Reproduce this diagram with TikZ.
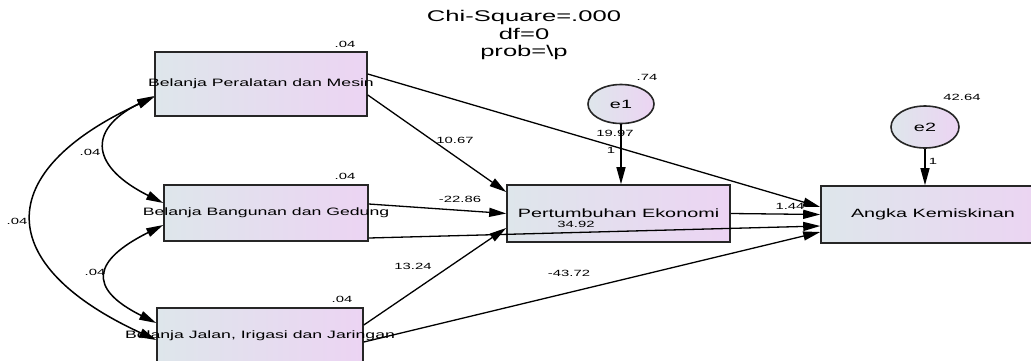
\documentclass[tikz,border=0pt]{standalone}
\usepackage{fontspec}
\setmainfont{Liberation Sans}[FakeStretch=1.65]
\usetikzlibrary{arrows.meta, shapes.geometric, positioning}
\usepackage{xcolor}
\definecolor{boxleft}{RGB}{222,230,235}
\definecolor{boxright}{RGB}{236,212,243}

\tikzset{
  obs/.style={draw=black!85, line width=1.6pt, left color=boxleft, right color=boxright, minimum height=57pt, inner sep=0pt},
  err/.style={draw=black!85, ellipse, line width=1.6pt, left color=boxleft, right color=boxright, minimum width=66pt, minimum height=39pt, inner sep=0pt, font=\fontsize{12}{14}\selectfont},
  reg/.style={-{Triangle[length=17pt,width=9pt]}, line width=1.3pt},
  cov/.style={{Triangle[length=17pt,width=9pt]}-{Triangle[length=17pt,width=9pt]}, line width=1.5pt},
  est/.style={font=\fontsize{9}{10}\selectfont, inner sep=0pt},
  small/.style={font=\fontsize{10.7}{12}\selectfont},
  big/.style={font=\fontsize{12}{14}\selectfont}
}

\begin{document}
\begin{tikzpicture}[x=1pt, y=-1pt]
\useasboundingbox (0,0) rectangle (1031,360);

% Fit statistics
\node[align=center, font=\fontsize{15.5}{17.5}\selectfont] (fit) at (524, 35) {Chi-Square=.000\\df=0\\prob=\textbackslash p};

% Exogenous variables
\node[obs, minimum width=212pt, minimum height=64pt, label={[small]center:Belanja Peralatan dan Mesin}] (mesin) at (261, 84) {};
\node[obs, minimum width=204pt, minimum height=56pt, label={[small]center:Belanja Bangunan dan Gedung}] (gedung) at (266, 213) {};
\node[obs, minimum width=206pt, minimum height=56pt, label={[small]center:Belanja Jalan, Irigasi dan Jaringan}] (jalan) at (260, 336) {};

% Endogenous variables
\node[obs, minimum width=223pt, big] (ekonomi) at (618.5, 213.5) {Pertumbuhan Ekonomi};
\node[obs, minimum width=224pt, big] (miskin) at (933, 214.5) {Angka Kemiskinan};

% Error terms
\node[err] (e1) at (621, 104) {e1};
\node[err, minimum width=68pt, minimum height=42pt] (e2) at (925, 127) {e2};

% Variances
\foreach \x/\y/\v [count=\i] in {345/44/.04, 345/176/.04, 342/299/.04, 647/77/.74, 962/97/42.64} {
  \node[est] (var\i) at (\x, \y) {\v};
}

% Regression paths
\draw[reg] ([yshift=-11pt]mesin.east) -- ([yshift=21.5pt]ekonomi.west);
\draw[reg] ([yshift=10pt]mesin.east) -- ([yshift=7.5pt]miskin.west);
\draw[reg] ([yshift=9pt]gedung.east) -- (ekonomi.west);
\draw[reg] ([yshift=-25pt]gedung.east) -- ([yshift=-11.5pt]miskin.west);
\draw[reg] ([yshift=11pt]jalan.east) -- ([yshift=-14.5pt]ekonomi.west);
\draw[reg] ([yshift=-6pt]jalan.east) -- ([yshift=-17.5pt]miskin.west);
\draw[reg] (ekonomi.east) -- (miskin.west);
\draw[reg] (e1.south) -- (e1.south |- ekonomi.north);
\draw[reg] (e2.south) -- (e2.south |- miskin.north);

% Path estimates
\node[est] (b1) at (455, 140) {10.67};
\node[est] (b2) at (460, 199) {-22.86};
\node[est] (b3) at (413, 266) {13.24};
\node[est] (b4) at (576, 224) {34.92};
\node[est] (b5) at (569, 273) {-43.72};
\node[est] (b6) at (790, 206) {1.44};
\node[est] (i1) at (615, 133) {19.97};
\node[est] (w1) at (611, 150) {1};
\node[est] (w2) at (933, 161) {1};

% Covariances
\draw[cov] ([yshift=-12pt]mesin.west) .. controls +(-70, 35) and +(-70, -35) .. ([yshift=10pt]gedung.west);
\draw[cov] ([yshift=-12pt]gedung.west) .. controls +(-70, 35) and +(-70, -35) .. ([yshift=13pt]jalan.west);
\draw[cov] ([yshift=-13pt]mesin.west) .. controls +(-163, 75) and +(-163, -75) .. ([yshift=-4pt]jalan.west);
\node[est] (c1) at (90, 152) {.04};
\node[est] (c2) at (95, 272) {.04};
\node[est] (c3) at (17, 221) {.04};
\end{tikzpicture}
\end{document}
